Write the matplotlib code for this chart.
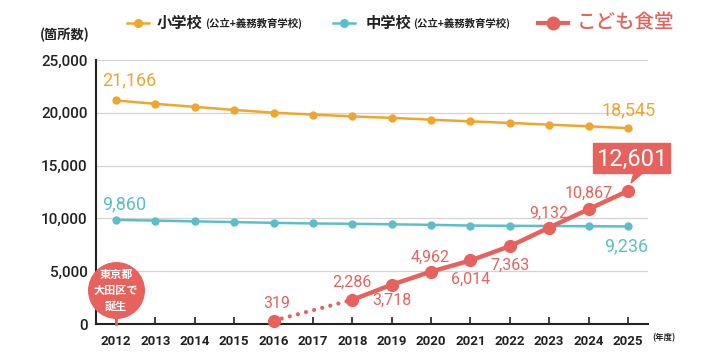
import matplotlib
matplotlib.use("Agg")
import matplotlib.pyplot as plt
from matplotlib.lines import Line2D
from matplotlib.patches import Polygon, Rectangle

plt.rcParams['font.family'] = ['Roboto', 'Noto Sans CJK JP', 'DejaVu Sans']

years = list(range(2012, 2026))
elementary = [21166, 20850, 20560, 20270, 20010, 19830, 19660, 19520, 19350, 19190, 19040, 18880, 18720, 18545]
junior = [9860, 9790, 9720, 9650, 9580, 9520, 9490, 9440, 9390, 9320, 9300, 9280, 9260, 9236]
kodomo_years = [2016, 2018, 2019, 2020, 2021, 2022, 2023, 2024, 2025]
kodomo = [319, 2286, 3718, 4962, 6014, 7363, 9132, 10867, 12601]
yticks = [0, 5000, 10000, 15000, 20000, 25000]

ORANGE = '#F0A62C'
TEAL = '#5BBFCB'
RED = '#E7625C'
DARK = '#222222'

fig = plt.figure(figsize=(7.1, 3.6), dpi=100)
ax = fig.add_axes([96 / 710, 1 - 324 / 360, 552 / 710, 264 / 360])

ax.set_xlim(2011.49, 2025.51)
ax.set_ylim(0, 25000)
ax.set_yticks(yticks)
ax.set_yticklabels([f'{v:,}' for v in yticks], fontsize=11, fontweight='medium', color=DARK)
ax.set_xticks(years)
ax.set_xticklabels([str(y) for y in years], fontsize=9.5, fontweight='bold', color=DARK)
ax.tick_params(axis='y', length=0, pad=6)
ax.tick_params(axis='x', direction='in', length=5, width=1.2, color=DARK, pad=8)
ax.grid(axis='y', color='#d4d4d4', lw=0.9)
ax.set_axisbelow(True)
for s in ['top', 'right']:
    ax.spines[s].set_visible(False)
for s in ['left', 'bottom']:
    ax.spines[s].set_color(DARK)
    ax.spines[s].set_linewidth(1.5)

# schools
ax.plot(years, elementary, color=ORANGE, lw=1.8, marker='o', ms=5, zorder=3)
ax.plot(years, junior, color=TEAL, lw=1.8, marker='o', ms=5, zorder=3)

# kodomo shokudo: dotted first segment, solid rest
ax.plot(kodomo_years[:2], kodomo[:2], color=RED, lw=3, ls=(0, (0.01, 2.0)),
        dash_capstyle='round', zorder=4)
ax.plot(kodomo_years[1:], kodomo[1:], color=RED, lw=3.2, zorder=4)
ax.plot(kodomo_years, kodomo, 'o', color=RED, ms=8.5, zorder=5, clip_on=False)

# value labels
ax.annotate(f'{elementary[0]:,}', (years[0], elementary[0]), xytext=(-10, 8),
            textcoords='offset points', color=ORANGE, fontsize=13, ha='left', va='bottom')
ax.annotate(f'{elementary[-1]:,}', (years[-1], elementary[-1]), xytext=(20, 6),
            textcoords='offset points', color=ORANGE, fontsize=13, ha='right', va='bottom')
ax.annotate(f'{junior[0]:,}', (years[0], junior[0]), xytext=(-10, 5),
            textcoords='offset points', color=TEAL, fontsize=13, ha='left', va='bottom')
ax.annotate(f'{junior[-1]:,}', (years[-1], junior[-1]), xytext=(-17, -8),
            textcoords='offset points', color=TEAL, fontsize=13, ha='left', va='top')

offsets = {2016: (2, 7, 'bottom'), 2018: (0, 7, 'bottom'), 2019: (0, -6, 'top'),
           2020: (-1, 5, 'bottom'), 2021: (0, -8, 'top'), 2022: (0, -8, 'top'),
           2023: (0, 5, 'bottom'), 2024: (0, 6, 'bottom')}
for yr, v in zip(kodomo_years, kodomo):
    if yr not in offsets:
        continue
    dx, dy, va = offsets[yr]
    ax.annotate(f'{v:,}', (yr, v), xytext=(dx, dy), textcoords='offset points',
                color=RED, fontsize=11.5, ha='center', va=va)

# highlight box for latest value
bx0, bx1, by0, by1 = 593 / 710, 670 / 710, 1 - 173 / 360, 1 - 143 / 360
fig.add_artist(Rectangle((bx0, by0), bx1 - bx0, by1 - by0, transform=fig.transFigure,
                         color=RED, zorder=6))
fig.add_artist(Polygon([(634 / 710, by0 + 0.001), (643 / 710, by0 + 0.001), (631 / 710, 1 - 183 / 360)],
                       closed=True, transform=fig.transFigure, color=RED, zorder=6))
fig.text((bx0 + bx1) / 2, (by0 + by1) / 2 - 0.003, f'{kodomo[-1]:,}', color='white',
         fontsize=17, ha='center', va='center', zorder=7)

# "born in Ota, Tokyo" bubble
ax.plot([2012, 2012], [0, 3200], color=RED, lw=2, zorder=5, clip_on=False)
ax.plot([2012], [3200], 'o', color=RED, ms=40, zorder=6, clip_on=False)
ax.text(2012, 3150, '東京都\n大田区で\n誕生', color='white', fontsize=8, fontweight='bold',
        ha='center', va='center', linespacing=1.3, zorder=7,
        family=['Noto Sans CJK JP', 'DejaVu Sans'])

# unit labels
fig.text(40 / 710, 1 - 35 / 360, '(箇所数)', fontsize=9.5, fontweight='bold', color=DARK,
         ha='left', va='center', family=['Noto Sans CJK JP', 'DejaVu Sans'])
fig.text(652 / 710, 1 - 338 / 360, '(年度)', fontsize=6, fontweight='bold', color=DARK,
         ha='left', va='center', family=['Noto Sans CJK JP', 'DejaVu Sans'])

# legend drawn by hand
ly = 1 - 23 / 360
def handle(x0, x1, color, lw, ms):
    fig.add_artist(Line2D([x0 / 710, (x0 + x1) / 2 / 710, x1 / 710], [ly, ly, ly],
                          color=color, lw=lw, marker='o', ms=ms, markevery=[1],
                          transform=fig.transFigure))

cjk = ['Noto Sans CJK JP', 'DejaVu Sans']
handle(127, 149, ORANGE, 1.8, 5.5)
fig.text(157 / 710, ly, '小学校', fontsize=11, fontweight='bold', color=DARK, ha='left',
         va='center', family=cjk)
fig.text(205 / 710, ly, '(公立+義務教育学校)', fontsize=7.5, fontweight='bold', color=DARK,
         ha='left', va='center', family=cjk)
handle(333, 355, TEAL, 1.8, 5.5)
fig.text(366 / 710, ly, '中学校', fontsize=11, fontweight='bold', color=DARK, ha='left',
         va='center', family=cjk)
fig.text(413 / 710, ly, '(公立+義務教育学校)', fontsize=7.5, fontweight='bold', color=DARK,
         ha='left', va='center', family=cjk)
handle(538, 568, RED, 3, 9)
fig.text(577 / 710, ly, 'こども食堂', fontsize=14, fontweight='medium', color=RED, ha='left',
         va='center', family=cjk)

fig.savefig('out.png', dpi=100)
